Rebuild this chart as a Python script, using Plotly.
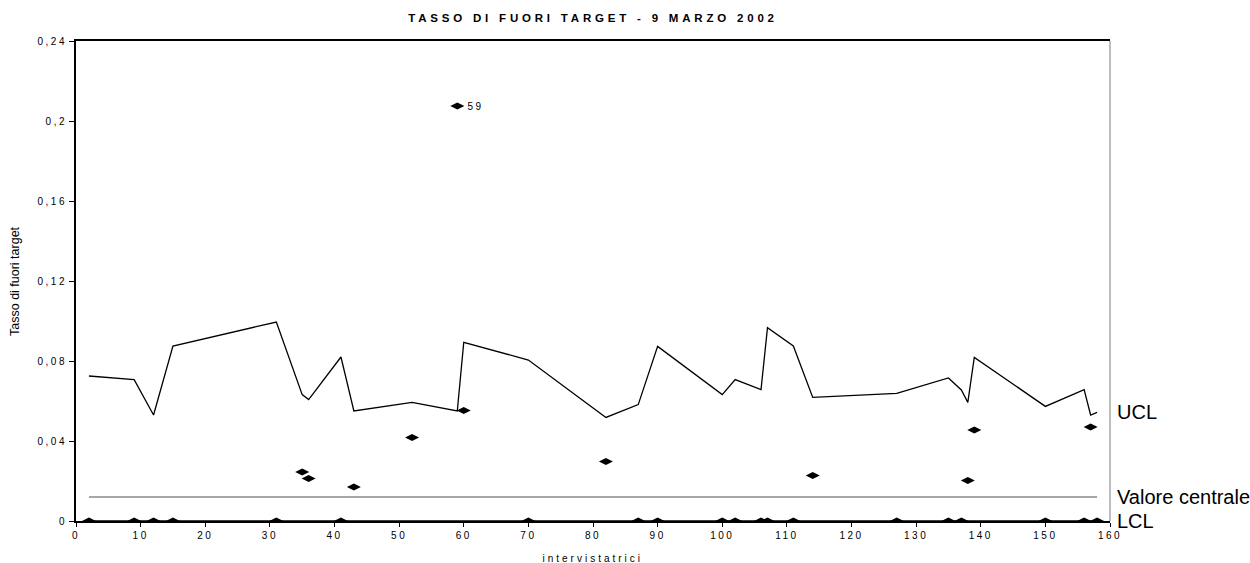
import plotly.graph_objects as go

# Interviewer index (x) and off-target rate per interviewer
intervistatrici = [2, 9, 12, 15, 31, 35, 36, 41, 43, 52, 59, 60, 70, 82, 87, 90,
                   100, 102, 106, 107, 111, 114, 127, 135, 137, 138, 139, 150,
                   156, 157, 158]
tasso = [0, 0, 0, 0, 0, 0.0245, 0.0213, 0, 0.017, 0.0417, 0.2075, 0.0553, 0,
         0.0297, 0, 0, 0, 0, 0, 0, 0, 0.0228, 0, 0, 0, 0.0203, 0.0455, 0, 0,
         0.047, 0]
# Upper control limit per interviewer
ucl = [0.0725, 0.0707, 0.053, 0.0875, 0.0995, 0.0632, 0.0607, 0.082, 0.055,
       0.0593, 0.055, 0.0893, 0.0805, 0.0518, 0.0582, 0.0873, 0.0632, 0.0707,
       0.0657, 0.0967, 0.0875, 0.0618, 0.0638, 0.0715, 0.0655, 0.0593, 0.0818,
       0.0573, 0.0657, 0.053, 0.0543]
valore_centrale = 0.012
lcl = 0.0
etichetta_punto = {59: "59"}

FONT = "Arial, Liberation Sans, sans-serif"
W, H = 1250, 563
ML, MR, MT, MB = 76, 140, 41, 42
PH = H - MT - MB

fig = go.Figure()

# Upper control limit
fig.add_trace(go.Scatter(
    x=intervistatrici, y=ucl, mode="lines",
    line=dict(color="black", width=1.3), hoverinfo="skip", showlegend=False))

# Central line
fig.add_trace(go.Scatter(
    x=[intervistatrici[0], intervistatrici[-1]],
    y=[valore_centrale, valore_centrale], mode="lines",
    line=dict(color="#8a8a8a", width=1.5), hoverinfo="skip", showlegend=False))

# Lower control limit
fig.add_trace(go.Scatter(
    x=[intervistatrici[0], intervistatrici[-1]], y=[lcl, lcl], mode="lines",
    line=dict(color="black", width=1.3), hoverinfo="skip", showlegend=False))

# Observed rates
fig.add_trace(go.Scatter(
    x=intervistatrici, y=tasso, mode="markers",
    marker=dict(symbol="diamond-wide", size=10, color="black"),
    showlegend=False))

# Point labels
for xi, yi in zip(intervistatrici, tasso):
    if xi in etichetta_punto:
        fig.add_annotation(x=xi, y=yi, text=etichetta_punto[xi], showarrow=False,
                           xanchor="left", yanchor="middle", xshift=11,
                           font=dict(family=FONT, size=10, color="black"))

# Limit labels on the right
for testo, yv in [("UCL", ucl[-1]), ("Valore centrale", valore_centrale), ("LCL", lcl)]:
    fig.add_annotation(
        x=1.005, xref="paper", y=yv, yref="y", text=testo, showarrow=False,
        xanchor="left", yanchor="middle",
        font=dict(family=FONT, size=20, color="black"))

# Axis titles
fig.add_annotation(x=0.5, xref="paper", y=-(558 - (MT + PH)) / PH, yref="paper",
                   text="intervistatrici", showarrow=False, xanchor="center",
                   yanchor="middle", font=dict(family=FONT, size=10, color="black"))
fig.add_annotation(x=-(ML - 15) / (W - ML - MR), xref="paper", y=0.5, yref="paper",
                   text="Tasso di fuori target", textangle=-90, showarrow=False,
                   xanchor="center", yanchor="middle",
                   font=dict(family=FONT, size=12.5, color="black"))

# Right border of the plotting area
fig.add_shape(type="line", xref="paper", yref="paper", x0=1, x1=1, y0=0, y1=1,
              line=dict(color="#7a7a7a", width=1))

fig.update_layout(
    width=W, height=H,
    margin=dict(l=ML, r=MR, t=MT, b=MB, autoexpand=False),
    paper_bgcolor="white", plot_bgcolor="white",
    separators=",.",
    title=dict(text="<b>TASSO DI FUORI TARGET - 9 MARZO 2002</b>",
               x=(ML + W - MR) / 2 / W, xanchor="center", y=1 - 18 / H,
               yanchor="middle",
               font=dict(family=FONT, size=11.5, color="black")),
    font=dict(family=FONT, color="black"),
)

fig.update_xaxes(
    range=[0, 160], tickvals=list(range(0, 161, 10)), automargin=False,
    showgrid=False, zeroline=False,
    showline=True, linecolor="black", linewidth=1.5, mirror=True,
    ticks="outside", ticklen=4, tickcolor="black",
    tickfont=dict(family=FONT, size=10, color="black"))

fig.update_yaxes(
    range=[0, 0.24], tickvals=[0, 0.04, 0.08, 0.12, 0.16, 0.2, 0.24],
    automargin=False, showgrid=False, zeroline=False,
    showline=True, linecolor="black", linewidth=2,
    ticks="outside", ticklen=5, tickcolor="black",
    tickfont=dict(family=FONT, size=10, color="black"))

spaziatura = (
    "var s=document.createElement('style');"
    "s.textContent='.gtitle{letter-spacing:3.8px}"
    ".xtick text,.ytick text{letter-spacing:2.5px}"
    ".annotation-text{letter-spacing:0px}';"
    "document.head.appendChild(s);"
    "document.querySelectorAll('.annotation-text').forEach(function(t){"
    "var v=t.textContent;"
    "if(v==='intervistatrici'){t.style.letterSpacing='3px';}"
    "if(v==='59'){t.style.letterSpacing='2.5px';}"
    "});"
)

fig.write_html("out.html", post_script=spaziatura)
